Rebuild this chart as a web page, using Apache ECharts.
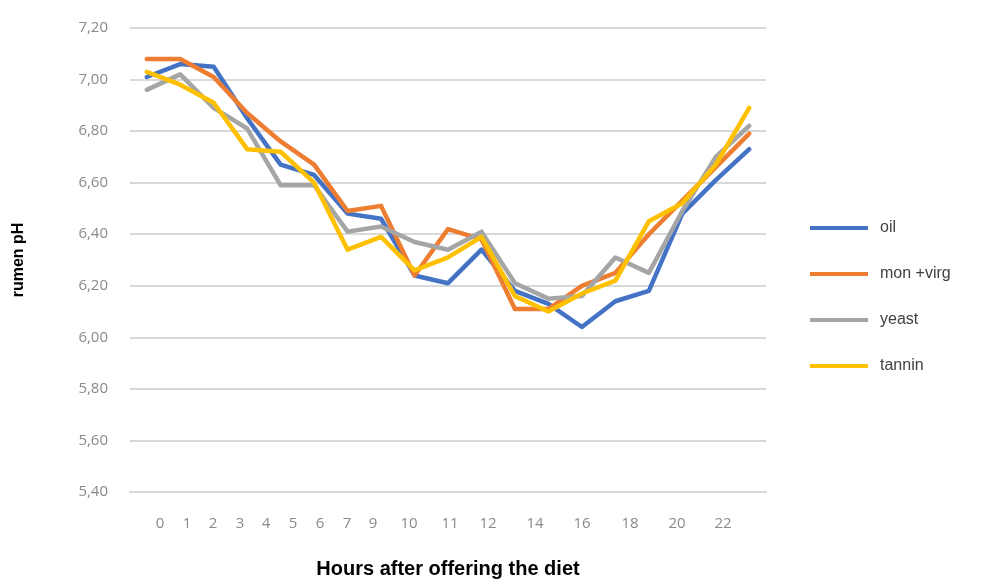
<!DOCTYPE html>
<html>
<head>
<meta charset="utf-8">
<script src="https://cdn.jsdelivr.net/npm/echarts@6/dist/echarts.min.js"></script>
<style>html,body{margin:0;padding:0;background:#fff}#c{width:999px;height:584px}</style>
</head>
<body>
<div id="c"></div>
<script>
// 19 sampling points (evenly spaced on the category axis)
const samplePoints = ['1','2','3','4','5','6','7','8','9','10','11','12','13','14','15','16','17','18','19'];
const oil    = [7.01, 7.06, 7.05, 6.85, 6.67, 6.63, 6.48, 6.46, 6.24, 6.21, 6.34, 6.18, 6.13, 6.04, 6.14, 6.18, 6.48, 6.61, 6.73];
const monVirg= [7.08, 7.08, 7.01, 6.87, 6.76, 6.67, 6.49, 6.51, 6.24, 6.42, 6.38, 6.11, 6.11, 6.20, 6.25, 6.40, 6.53, 6.66, 6.79];
const yeast  = [6.96, 7.02, 6.89, 6.81, 6.59, 6.59, 6.41, 6.43, 6.37, 6.34, 6.41, 6.21, 6.15, 6.16, 6.31, 6.25, 6.49, 6.70, 6.82];
const tannin = [7.03, 6.98, 6.91, 6.73, 6.72, 6.60, 6.34, 6.39, 6.26, 6.31, 6.39, 6.16, 6.10, 6.17, 6.22, 6.45, 6.52, 6.67, 6.89];
const seriesNames = ['oil', 'mon +virg', 'yeast', 'tannin'];
// tick labels printed under the axis
const xTickLabels = ['0','1','2','3','4','5','6','7','9','10','11','12','14','16','18','20','22'];
// layout: pixel x of each printed tick label
const xTickLabelPos = [160,187,213,240,266,293,320,347,373,409,450,488,535,582,630,677,723];

const colors = ['#4472C4', '#ED7D31', '#A5A5A5', '#FFC000'];
const chart = echarts.init(document.getElementById('c'), null, {renderer: 'canvas'});
const lineSeries = [oil, monVirg, yeast, tannin].map((d, i) => ({
  name: seriesNames[i], type: 'line', data: d, xAxisIndex: 0,
  symbol: 'none', showSymbol: false, smooth: false,
  lineStyle: {width: 4.5, color: colors[i], join: 'round', cap: 'round'},
  itemStyle: {color: colors[i]}, z: 2 + i
}));
chart.setOption({
  animation: false,
  backgroundColor: '#fff',
  grid: {left: 130, right: 233, top: 28, bottom: 92, containLabel: false},
  legend: {
    orient: 'vertical', left: 805, top: 215, itemWidth: 58, itemHeight: 4, itemGap: 30,
    icon: 'rect', data: seriesNames,
    textStyle: {fontFamily: 'Liberation Sans, Arial, sans-serif', fontSize: 16, color: '#404040', padding: [0, 0, 0, 7]}
  },
  xAxis: [{
    type: 'category', data: samplePoints, boundaryGap: true,
    axisLine: {show: true, lineStyle: {color: '#d9d9d9', width: 2}},
    axisTick: {show: false}, axisLabel: {show: false},
    name: 'Hours after offering the diet', nameLocation: 'middle', nameGap: 67,
    nameTextStyle: {fontFamily: 'Liberation Sans, Arial, sans-serif', fontWeight: 'bold', fontSize: 20, color: '#000'}
  }, {
    type: 'value', position: 'bottom', min: 130, max: 766,
    axisLine: {show: false}, axisTick: {show: false}, splitLine: {show: false},
    axisLabel: {
      show: true, margin: 24, customValues: xTickLabelPos,
      fontFamily: 'Open Sans, sans-serif', fontSize: 15, color: '#8a8a8a',
      formatter: v => { const i = xTickLabelPos.indexOf(Math.round(v)); return i >= 0 ? xTickLabels[i] : ''; }
    }
  }],
  yAxis: {
    type: 'value', min: 5.4, max: 7.2, interval: 0.2,
    axisLine: {show: false}, axisTick: {show: false},
    splitLine: {show: true, lineStyle: {color: '#d9d9d9', width: 2}},
    axisLabel: {margin: 22, fontFamily: 'Open Sans, sans-serif', fontSize: 15, color: '#8a8a8a',
      formatter: v => v.toFixed(2).replace('.', ',')},
    name: 'rumen pH', nameLocation: 'middle', nameGap: 103, nameRotate: 90,
    nameTextStyle: {fontFamily: 'Liberation Sans, Arial, sans-serif', fontWeight: 'bold', fontSize: 16, color: '#000'}
  },
  series: lineSeries
});
</script>
</body>
</html>
